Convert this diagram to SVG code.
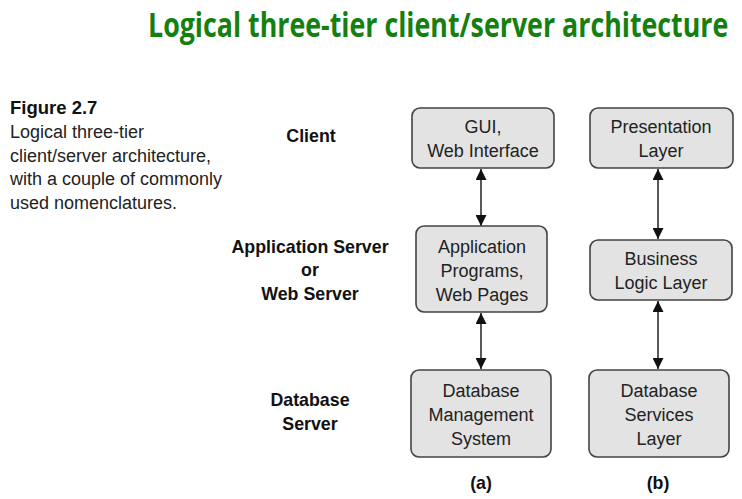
<svg xmlns="http://www.w3.org/2000/svg" width="742" height="499" viewBox="0 0 742 499">
<style>
.title{font-family:"Open Sans","Liberation Sans",sans-serif;font-weight:bold;font-size:34px;fill:#13800f}
.cap{font-family:"Liberation Sans",Arial,sans-serif;font-size:18px;fill:#222}
.capb{font-family:"Liberation Sans",Arial,sans-serif;font-size:18.5px;font-weight:bold;fill:#111}
.lbl{font-family:"Liberation Sans",Arial,sans-serif;font-size:17.8px;font-weight:bold;fill:#111;text-anchor:middle}
.box{fill:#e3e3e3;stroke:#444;stroke-width:1.6}
.bt{font-family:"Liberation Sans",Arial,sans-serif;font-size:18px;fill:#222;text-anchor:middle}
.conn{stroke:#222;stroke-width:1.5;fill:none}
</style>
<defs>
<marker id="ah" viewBox="0 0 10 10" refX="10" refY="5" markerWidth="13" markerHeight="11" markerUnits="userSpaceOnUse" orient="auto-start-reverse">
<path d="M0,0 L10,5 L0,10 z" fill="#111"/>
</marker>
</defs>
<text class="title" transform="translate(148,37) scale(0.72,1)" x="0" y="0" textLength="806" lengthAdjust="spacingAndGlyphs">Logical three-tier client/server architecture</text>
<g id="caption">
<text class="capb" x="10" y="114">Figure 2.7</text>
<text class="cap" x="10" y="138">Logical three-tier</text>
<text class="cap" x="10" y="162">client/server architecture,</text>
<text class="cap" x="10" y="185">with a couple of commonly</text>
<text class="cap" x="10" y="209">used nomenclatures.</text>
</g>
<g id="tier-labels">
<text class="lbl" x="311" y="142">Client</text>
<text class="lbl" x="310" y="253">Application Server</text>
<text class="lbl" x="310" y="276">or</text>
<text class="lbl" x="310" y="300">Web Server</text>
<text class="lbl" x="310" y="406">Database</text>
<text class="lbl" x="310" y="430">Server</text>
</g>
<g id="connectors">
<line class="conn" x1="481" y1="169" x2="481" y2="226" marker-start="url(#ah)" marker-end="url(#ah)"/>
<line class="conn" x1="481" y1="313" x2="481" y2="369" marker-start="url(#ah)" marker-end="url(#ah)"/>
<line class="conn" x1="658" y1="169" x2="658" y2="239" marker-start="url(#ah)" marker-end="url(#ah)"/>
<line class="conn" x1="658" y1="301" x2="658" y2="369" marker-start="url(#ah)" marker-end="url(#ah)"/>
</g>
<g id="gui">
<rect class="box" x="412" y="108" width="142" height="60" rx="8"/>
<text class="bt" x="483" y="133">GUI,</text>
<text class="bt" x="483" y="157">Web Interface</text>
</g>
<g id="app">
<rect class="box" x="416" y="226" width="131" height="86" rx="8"/>
<text class="bt" x="482" y="253">Application</text>
<text class="bt" x="482" y="277">Programs,</text>
<text class="bt" x="482" y="301">Web Pages</text>
</g>
<g id="dbms">
<rect class="box" x="411" y="370" width="140" height="87" rx="8"/>
<text class="bt" x="481" y="397">Database</text>
<text class="bt" x="481" y="421">Management</text>
<text class="bt" x="481" y="445">System</text>
</g>
<g id="presentation">
<rect class="box" x="590" y="108" width="143" height="60" rx="8"/>
<text class="bt" x="661" y="133">Presentation</text>
<text class="bt" x="661" y="157">Layer</text>
</g>
<g id="business">
<rect class="box" x="590" y="240" width="142" height="60" rx="8"/>
<text class="bt" x="661" y="265">Business</text>
<text class="bt" x="661" y="289">Logic Layer</text>
</g>
<g id="dbservices">
<rect class="box" x="589" y="370" width="140" height="87" rx="8"/>
<text class="bt" x="659" y="397">Database</text>
<text class="bt" x="659" y="421">Services</text>
<text class="bt" x="659" y="445">Layer</text>
</g>
<text class="lbl" x="481" y="489">(a)</text>
<text class="lbl" x="658" y="489">(b)</text>
</svg>
